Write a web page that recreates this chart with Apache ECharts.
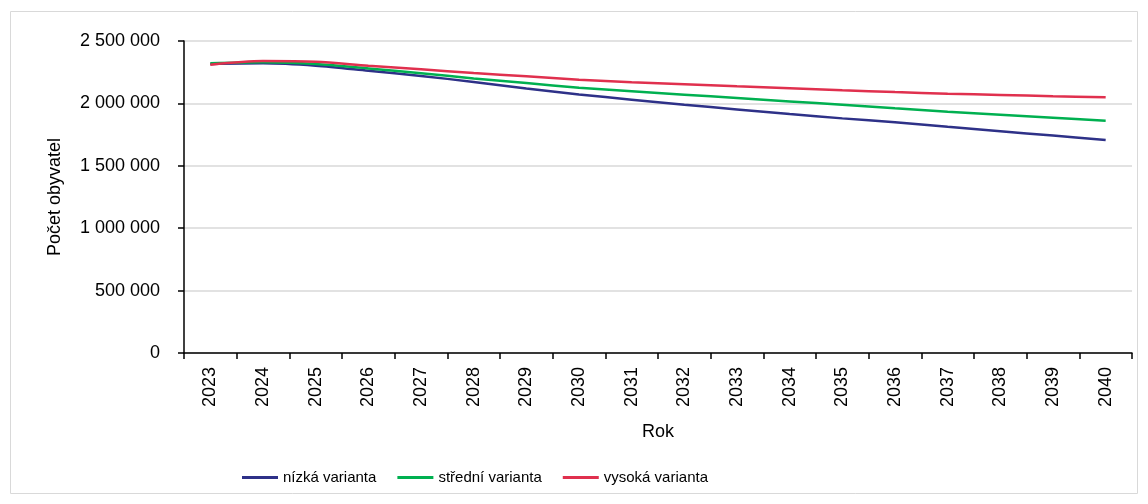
<!DOCTYPE html>
<html>
<head>
<meta charset="utf-8">
<title>Počet obyvatel</title>
<script src="https://cdn.jsdelivr.net/npm/echarts@6/dist/echarts.min.js"></script>
<style>
  html, body { margin: 0; padding: 0; background: #fff; }
  #chart { width: 1148px; height: 504px; }
</style>
</head>
<body>
<div id="chart"></div>
<script>
  // roky
  var years = ['2023', '2024', '2025', '2026', '2027', '2028', '2029', '2030', '2031',
    '2032', '2033', '2034', '2035', '2036', '2037', '2038', '2039', '2040'];

  // varianty projekce
  var nizka = [2316000, 2321000, 2302000, 2262000, 2220000, 2172000, 2120000, 2072000, 2030000,
    1990000, 1952000, 1915000, 1880000, 1848000, 1812000, 1777000, 1742000, 1707000];
  var stredni = [2321000, 2329000, 2316000, 2280000, 2242000, 2200000, 2163000, 2126000, 2097000,
    2070000, 2043000, 2016000, 1989000, 1961000, 1934000, 1910000, 1885000, 1861000];
  var vysoka = [2310000, 2340000, 2334000, 2302000, 2273000, 2243000, 2218000, 2190000, 2169000,
    2153000, 2137000, 2122000, 2106000, 2091000, 2078000, 2068000, 2058000, 2049000];

  var seriesNames = ['nízká varianta', 'střední varianta', 'vysoká varianta'];
  var yTicks = [0, 500000, 1000000, 1500000, 2000000, 2500000];

  var font = 'Liberation Sans, Arial, sans-serif';

  function spaced(v) {
    return String(v).replace(/\B(?=(\d{3})+(?!\d))/g, ' ');
  }

  function line(name, data, color) {
    return {
      name: name,
      type: 'line',
      data: data,
      smooth: 0.3,
      symbol: 'none',
      lineStyle: { width: 2.5, color: color },
      itemStyle: { color: color }
    };
  }

  var chart = echarts.init(document.getElementById('chart'));
  chart.setOption({
    animation: false,
    textStyle: { fontFamily: font },
    graphic: [{
      type: 'rect',
      shape: { x: 10.5, y: 11.5, width: 1127, height: 482 },
      style: { fill: 'none', stroke: '#d9d9d9', lineWidth: 1 },
      silent: true
    }],
    grid: { left: 184, top: 41, right: 16, bottom: 151 },
    legend: {
      data: seriesNames,
      left: 237,
      top: 465,
      icon: 'rect',
      itemWidth: 36,
      itemHeight: 3,
      itemGap: 21,
      textStyle: { fontFamily: font, fontSize: 15, color: '#000' }
    },
    xAxis: {
      type: 'category',
      data: years,
      boundaryGap: true,
      name: 'Rok',
      nameLocation: 'middle',
      nameGap: 70,
      nameTextStyle: { fontFamily: font, fontSize: 18, color: '#000' },
      axisLine: { lineStyle: { color: '#000', width: 1.5 } },
      axisTick: { show: true, length: 6, lineStyle: { color: '#000', width: 1.5 } },
      axisLabel: { rotate: 90, margin: 14, fontFamily: font, fontSize: 18, color: '#000', interval: 0 },
      splitLine: { show: false }
    },
    yAxis: {
      type: 'value',
      min: yTicks[0],
      max: yTicks[yTicks.length - 1],
      interval: yTicks[1] - yTicks[0],
      name: 'Počet obyvatel',
      nameLocation: 'middle',
      nameGap: 120,
      nameTextStyle: { fontFamily: font, fontSize: 18, color: '#000' },
      axisLine: { show: true, lineStyle: { color: '#000', width: 1.5 } },
      axisTick: { show: true, length: 6, lineStyle: { color: '#000', width: 1.5 } },
      axisLabel: { margin: 24, fontFamily: font, fontSize: 18, color: '#000', formatter: spaced },
      splitLine: { lineStyle: { color: '#d9d9d9', width: 1.5 } }
    },
    series: [
      line(seriesNames[0], nizka, '#2e3188'),
      line(seriesNames[1], stredni, '#00b050'),
      line(seriesNames[2], vysoka, '#e0304e')
    ]
  });
</script>
</body>
</html>
